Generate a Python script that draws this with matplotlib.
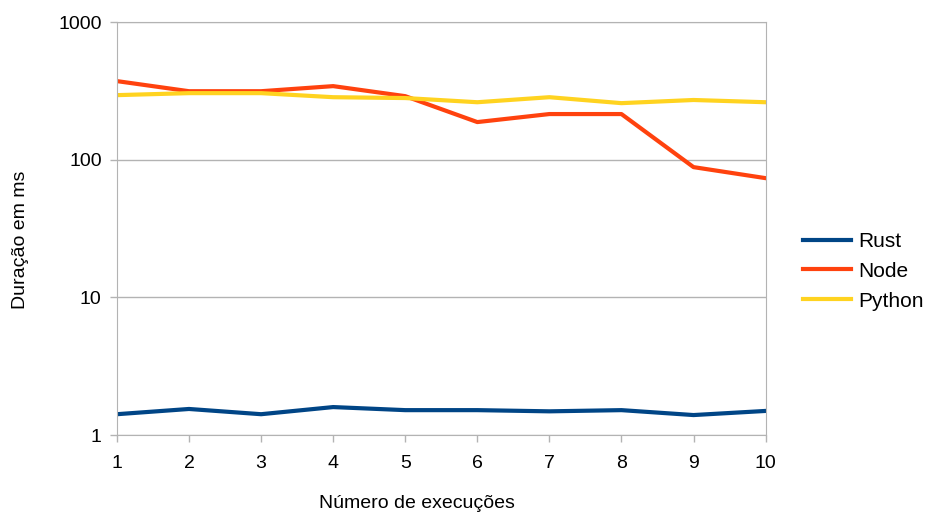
import numpy as np
import matplotlib.pyplot as plt
from matplotlib.ticker import FixedLocator, NullLocator

plt.rcParams['font.family'] = ['Liberation Sans', 'DejaVu Sans']

# Dados
execucoes = [1, 2, 3, 4, 5, 6, 7, 8, 9, 10]
rust = [1.42, 1.55, 1.42, 1.60, 1.52, 1.52, 1.49, 1.52, 1.40, 1.50]
node = [373, 315, 315, 343, 290, 188, 215, 215, 88.5, 73.6]
python = [295, 305, 305, 285, 281, 262, 285, 258, 272, 262]
y_ticks = [1, 10, 100, 1000]

fig = plt.figure(figsize=(9.28, 5.15), dpi=100)
ax = fig.add_axes([0.126, 0.155, 0.699, 0.802])

ax.plot(execucoes, rust, color='#004586', lw=3, label='Rust')
ax.plot(execucoes, node, color='#ff420e', lw=3, label='Node')
ax.plot(execucoes, python, color='#ffd320', lw=3, label='Python')

ax.set_yscale('log')
ax.set_ylim(1, 1000)
ax.set_xlim(1, 10)
ax.yaxis.set_major_locator(FixedLocator(y_ticks))
ax.yaxis.set_minor_locator(NullLocator())
ax.set_yticklabels([str(v) for v in y_ticks])
ax.set_xticks(execucoes)

ax.grid(axis='y', color='#b3b3b3', lw=1)
ax.set_axisbelow(True)
for s in ax.spines.values():
    s.set_color('#b3b3b3')
ax.tick_params(colors='#b3b3b3', labelcolor='black', labelsize=14, length=5, width=1)
ax.tick_params(axis='x', pad=9)
ax.tick_params(axis='y', pad=6)

ax.set_xlabel('Número de execuções', fontsize=14, labelpad=17)
ax.set_ylabel('Duração em ms', fontsize=14, labelpad=21)
ax.xaxis.label.set_x(0.462)
ax.yaxis.label.set_y(0.472)

ax.legend(loc='center left', bbox_to_anchor=(1.058, 0.397), frameon=False,
          fontsize=15, handlelength=2.3, handletextpad=0.35, labelspacing=0.52,
          borderaxespad=0, borderpad=0)

plt.savefig('out.png')
